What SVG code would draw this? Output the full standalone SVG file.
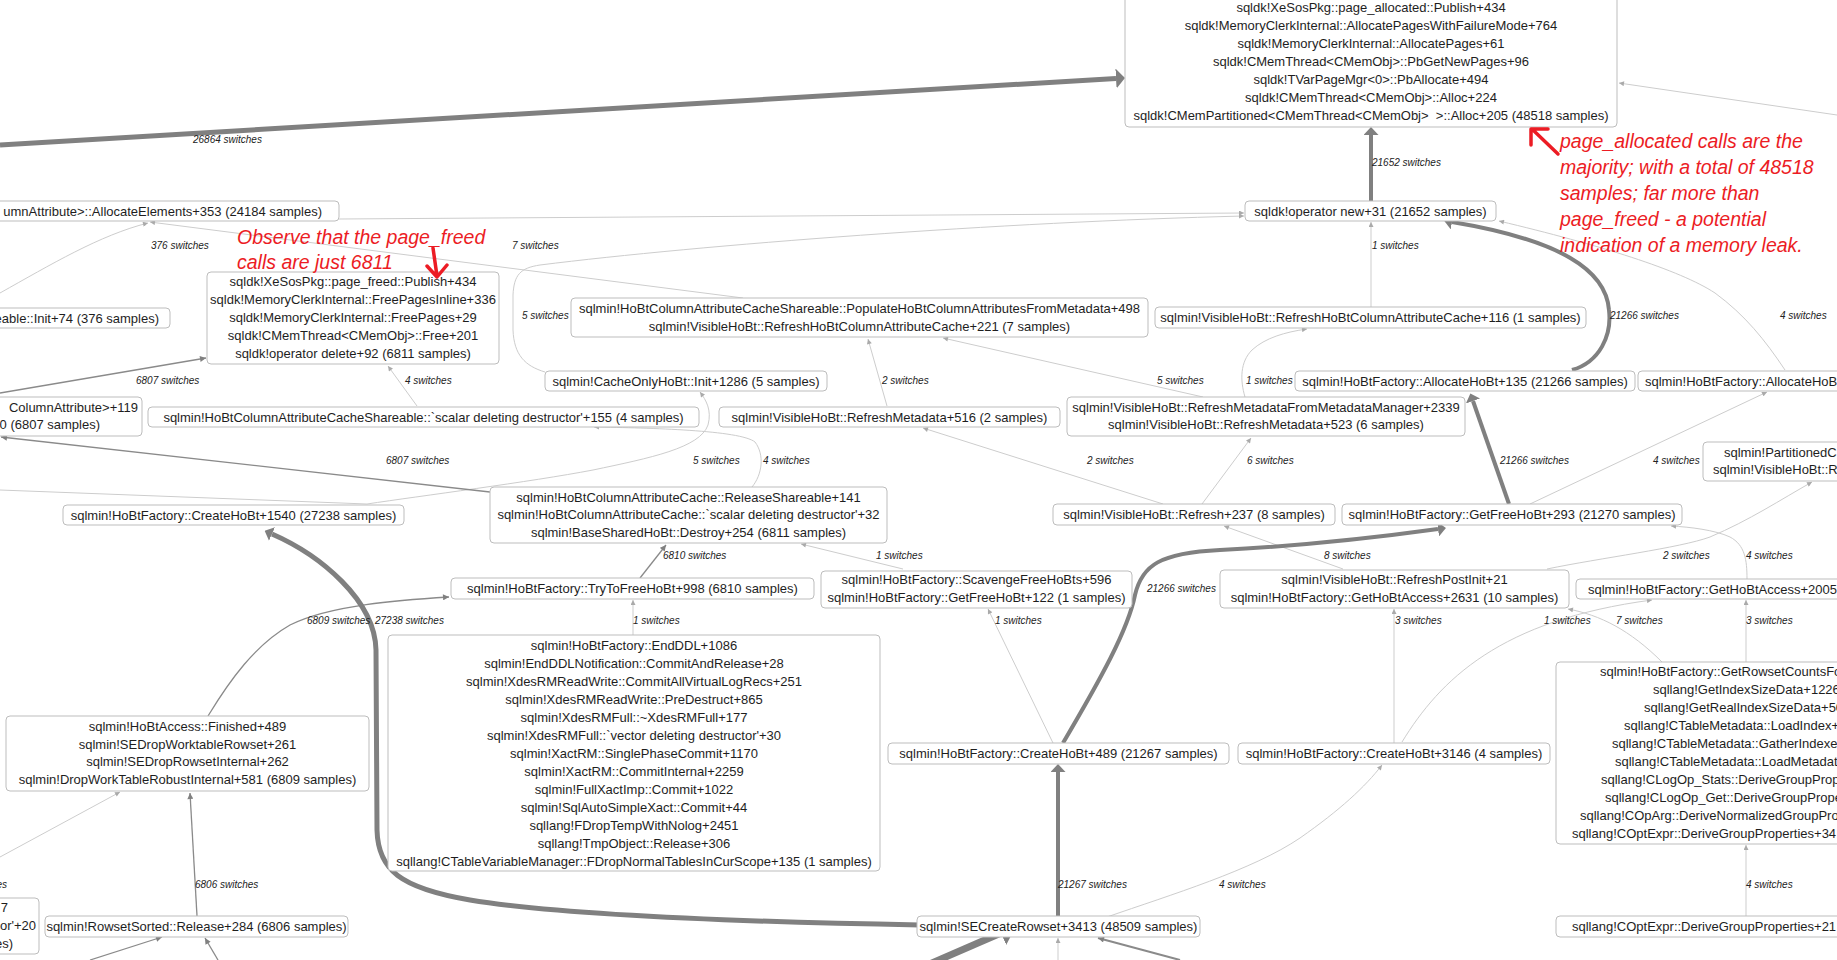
<svg xmlns="http://www.w3.org/2000/svg" width="1837" height="960" viewBox="0 0 1837 960">
<style>
.n rect{fill:#fff;stroke:#bdbdbd;stroke-width:1}
.n text{font-family:"Liberation Sans",Arial,sans-serif;font-size:13px;fill:#1e1e1e;text-anchor:middle}
.n text.s{text-anchor:start}
.n text.r{text-anchor:end}
.lbl{font-family:"Liberation Sans",Arial,sans-serif;font-size:10px;font-style:italic;fill:#222}
.e{fill:none;stroke:#cdcdcd;stroke-width:1}
.m{stroke:#8a8a8a;stroke-width:1.3}
.t{stroke:#808080}
.note{font-family:"Liberation Sans",Arial,sans-serif;font-size:19.5px;font-style:italic;fill:#ec1c24}
.ra{fill:none;stroke:#ec1c24;stroke-width:3.5;stroke-linecap:round;stroke-linejoin:round}
</style>
<defs>
<marker id="at" viewBox="0 0 10 10" refX="10" refY="5" markerWidth="6" markerHeight="5" markerUnits="userSpaceOnUse" orient="auto"><path d="M0,0L10,5L0,10z" fill="#aaaaaa"/></marker>
<marker id="am" viewBox="0 0 10 10" refX="10" refY="5" markerWidth="7" markerHeight="6" markerUnits="userSpaceOnUse" orient="auto"><path d="M0,0L10,5L0,10z" fill="#808080"/></marker>
<marker id="h1" viewBox="0 0 10 10" refX="0" refY="5" markerWidth="9" markerHeight="20" markerUnits="userSpaceOnUse" orient="auto" preserveAspectRatio="none"><path d="M0,0L10,5L0,10z" fill="#808080"/></marker>
<marker id="h2" viewBox="0 0 10 10" refX="0" refY="5" markerWidth="8" markerHeight="15" markerUnits="userSpaceOnUse" orient="auto" preserveAspectRatio="none"><path d="M0,0L10,5L0,10z" fill="#808080"/></marker>
<marker id="h3" viewBox="0 0 10 10" refX="0" refY="5" markerWidth="16" markerHeight="26" markerUnits="userSpaceOnUse" orient="auto" preserveAspectRatio="none"><path d="M0,0L10,5L0,10z" fill="#808080"/></marker>
</defs>

<g id="connectors">
<path class="e" marker-end="url(#at)" d="M1837,115 L1619,83"/>
<path class="e" marker-end="url(#at)" d="M1785,370 C1765,340 1745,315 1715,293 C1680,270 1600,245 1499,221"/>
<path class="e" marker-end="url(#at)" d="M0,293 C50,265 100,235 148,223"/>
<path class="e" marker-end="url(#at)" d="M743,298 L150,222"/>
<path class="e" marker-end="url(#at)" d="M339,219 L1244,213"/>
<path class="e" marker-end="url(#at)" d="M545,372 C525,366 514,355 513,330 L513,295 C514,275 520,268 540,265 C700,245 1000,222 1244,216"/>
<path class="e" marker-end="url(#at)" d="M1371,307 L1371,222"/>
<path class="e" marker-end="url(#at)" d="M417,406 L388,366"/>
<path class="e" marker-end="url(#at)" d="M887,406 L868,339"/>
<path class="e" marker-end="url(#at)" d="M752,487 C762,475 765,455 755,442 C740,430 650,428 594,427"/>
<path class="e" marker-end="url(#at)" d="M0,490 L367,504 C420,496 530,482 593,470 C650,458 700,448 708,425 C712,410 706,400 700,392"/>
<path class="e" marker-end="url(#at)" d="M1163,504 L923,428"/>
<path class="e" marker-end="url(#at)" d="M1202,504 L1251,438"/>
<path class="e" marker-end="url(#at)" d="M1203,397 L943,338"/>
<path class="e" marker-end="url(#at)" d="M1245,397 C1240,380 1240,362 1252,350 C1265,338 1285,332 1307,329"/>
<path class="e" marker-end="url(#at)" d="M903,569 L801,544"/>
<path class="e" marker-end="url(#at)" d="M1053,743 L988,609"/>
<path class="e" marker-end="url(#at)" d="M1343,569 L1224,526"/>
<path class="e" marker-end="url(#at)" d="M1530,504 L1767,392"/>
<path class="e" marker-end="url(#at)" d="M1547,569 C1600,558 1680,548 1710,537 C1750,520 1780,500 1812,482"/>
<path class="e" marker-end="url(#at)" d="M1747,579 C1747,560 1745,545 1730,537 C1715,530 1690,527 1671,526"/>
<path class="e" marker-end="url(#at)" d="M633,635 L633,600"/>
<path class="e" marker-end="url(#at)" d="M1394,743 L1394,609"/>
<path class="e" marker-end="url(#at)" d="M1402,742 C1440,680 1500,620 1652,600"/>
<path class="e" marker-end="url(#at)" d="M1662,662 C1630,630 1600,615 1568,609"/>
<path class="e" marker-end="url(#at)" d="M1746,662 L1746,600"/>
<path class="e" marker-end="url(#at)" d="M1746,916 L1746,845"/>
<path class="e" marker-end="url(#at)" d="M1107,917 C1170,895 1253,870 1300,838 C1340,810 1365,787 1382,765"/>
<path class="e" marker-end="url(#at)" d="M0,857 L120,792"/>
<path class="e" marker-end="url(#at)" d="M1058,960 L1058,938"/>

<path class="e m" marker-end="url(#am)" d="M0,393 L206,358"/>
<path class="e m" marker-end="url(#am)" d="M490,492 L1,437"/>
<path class="e m" marker-end="url(#am)" d="M640,578 L666,545"/>
<path class="e m" marker-end="url(#am)" d="M197,916 L190,793"/>
<path class="e m" marker-end="url(#am)" d="M208,716 C230,680 255,645 290,625 C330,605 400,600 449,597"/>
<path class="e m" marker-end="url(#am)" d="M90,960 L162,937"/>
<path class="e m" marker-end="url(#am)" d="M218,960 L205,938"/>
<path class="e m" marker-end="url(#am)" style="stroke-width:2" d="M1180,960 L1098,938"/>

<path class="e t" style="stroke-width:5" marker-end="url(#h1)" d="M0,145 L1116,78.5"/>
<path class="e t" style="stroke-width:4" marker-end="url(#h2)" d="M1371,201 L1371,135"/>
<path class="e t" style="stroke-width:4" marker-end="url(#h2)" d="M1572,370 C1600,362 1612,335 1609,310 C1606,270 1560,240 1452,222"/>
<path class="e t" style="stroke-width:4" marker-end="url(#h2)" d="M1509,504 L1473,401"/>
<path class="e t" style="stroke-width:4" marker-end="url(#h2)" d="M1063,743 C1100,680 1128,630 1135,595 C1142,565 1160,553 1220,550 C1300,546 1380,537 1438,529"/>
<path class="e t" style="stroke-width:4" marker-end="url(#h2)" d="M1058,917 L1058,772"/>
<path class="e t" style="stroke-width:5" marker-end="url(#h2)" d="M920,925 C750,922 560,915 470,900 C400,888 378,870 377,830 L376,650 C375,600 320,555 272,534"/>
<path class="e t" style="stroke-width:7" marker-end="url(#h3)" d="M925,966 L1001,933"/>

<text class="lbl" x="193" y="143">26864 switches</text>
<text class="lbl" x="151" y="249">376 switches</text>
<text class="lbl" x="512" y="249">7 switches</text>
<text class="lbl" x="1372" y="166">21652 switches</text>
<text class="lbl" x="1372" y="249">1 switches</text>
<text class="lbl" x="1610" y="319">21266 switches</text>
<text class="lbl" x="1780" y="319">4 switches</text>
<text class="lbl" x="522" y="319">5 switches</text>
<text class="lbl" x="136" y="384">6807 switches</text>
<text class="lbl" x="405" y="384">4 switches</text>
<text class="lbl" x="882" y="384">2 switches</text>
<text class="lbl" x="1157" y="384">5 switches</text>
<text class="lbl" x="1246" y="384">1 switches</text>
<text class="lbl" x="386" y="464">6807 switches</text>
<text class="lbl" x="693" y="464">5 switches</text>
<text class="lbl" x="763" y="464">4 switches</text>
<text class="lbl" x="1087" y="464">2 switches</text>
<text class="lbl" x="1247" y="464">6 switches</text>
<text class="lbl" x="1500" y="464">21266 switches</text>
<text class="lbl" x="1653" y="464">4 switches</text>
<text class="lbl" x="663" y="559">6810 switches</text>
<text class="lbl" x="876" y="559">1 switches</text>
<text class="lbl" x="1324" y="559">8 switches</text>
<text class="lbl" x="1663" y="559">2 switches</text>
<text class="lbl" x="1746" y="559">4 switches</text>
<text class="lbl" x="1147" y="592">21266 switches</text>
<text class="lbl" x="307" y="624">6809 switches</text>
<text class="lbl" x="375" y="624">27238 switches</text>
<text class="lbl" x="633" y="624">1 switches</text>
<text class="lbl" x="995" y="624">1 switches</text>
<text class="lbl" x="1395" y="624">3 switches</text>
<text class="lbl" x="1544" y="624">1 switches</text>
<text class="lbl" x="1616" y="624">7 switches</text>
<text class="lbl" x="1746" y="624">3 switches</text>
<text class="lbl" x="7" y="888" text-anchor="end">es</text>
<text class="lbl" x="195" y="888">6806 switches</text>
<text class="lbl" x="1058" y="888">21267 switches</text>
<text class="lbl" x="1219" y="888">4 switches</text>
<text class="lbl" x="1746" y="888">4 switches</text>
</g>

<g id="node-page-allocated" class="n">
<rect x="1125" y="-4" width="492" height="131" rx="4"/>
<text x="1371" y="12">sqldk!XeSosPkg::page_allocated::Publish+434</text>
<text x="1371" y="30">sqldk!MemoryClerkInternal::AllocatePagesWithFailureMode+764</text>
<text x="1371" y="48">sqldk!MemoryClerkInternal::AllocatePages+61</text>
<text x="1371" y="66">sqldk!CMemThread&lt;CMemObj&gt;::PbGetNewPages+96</text>
<text x="1371" y="84">sqldk!TVarPageMgr&lt;0&gt;::PbAllocate+494</text>
<text x="1371" y="102">sqldk!CMemThread&lt;CMemObj&gt;::Alloc+224</text>
<text x="1371" y="120">sqldk!CMemPartitioned&lt;CMemThread&lt;CMemObj&gt;&#160; &gt;::Alloc+205 (48518 samples)</text>
</g>
<g id="node-allocate-elements" class="n">
<rect x="-10" y="201" width="349" height="20" rx="4"/>
<text class="r" x="322" y="215.5">umnAttribute&gt;::AllocateElements+353 (24184 samples)</text>
</g>
<g id="node-operator-new" class="n">
<rect x="1245" y="201" width="251" height="20" rx="4"/>
<text x="1370.5" y="215.5">sqldk!operator new+31 (21652 samples)</text>
</g>
<g id="node-page-freed" class="n">
<rect x="207" y="272" width="292" height="92" rx="4"/>
<text x="353" y="286">sqldk!XeSosPkg::page_freed::Publish+434</text>
<text x="353" y="304">sqldk!MemoryClerkInternal::FreePagesInline+336</text>
<text x="353" y="322">sqldk!MemoryClerkInternal::FreePages+29</text>
<text x="353" y="340">sqldk!CMemThread&lt;CMemObj&gt;::Free+201</text>
<text x="353" y="358">sqldk!operator delete+92 (6811 samples)</text>
</g>
<g id="node-init74" class="n">
<rect x="-10" y="308" width="180" height="20" rx="4"/>
<text class="r" x="159" y="322.5">eable::Init+74 (376 samples)</text>
</g>
<g id="node-populate" class="n">
<rect x="571" y="298" width="577" height="39" rx="4"/>
<text x="859.5" y="312.5">sqlmin!HoBtColumnAttributeCacheShareable::PopulateHoBtColumnAttributesFromMetadata+498</text>
<text x="859.5" y="331">sqlmin!VisibleHoBt::RefreshHoBtColumnAttributeCache+221 (7 samples)</text>
</g>
<g id="node-refresh-colattr116" class="n">
<rect x="1155" y="307" width="431" height="21" rx="4"/>
<text x="1370.5" y="321.5">sqlmin!VisibleHoBt::RefreshHoBtColumnAttributeCache+116 (1 samples)</text>
</g>
<g id="node-cacheonly" class="n">
<rect x="545" y="371" width="282" height="20" rx="4"/>
<text x="686" y="385.5">sqlmin!CacheOnlyHoBt::Init+1286 (5 samples)</text>
</g>
<g id="node-allochobt135" class="n">
<rect x="1295" y="371" width="340" height="20" rx="4"/>
<text x="1465" y="385.5">sqlmin!HoBtFactory::AllocateHoBt+135 (21266 samples)</text>
</g>
<g id="node-allochobt2" class="n">
<rect x="1638" y="371" width="230" height="20" rx="4"/>
<text class="s" x="1645" y="385.5">sqlmin!HoBtFactory::AllocateHoBt</text>
</g>
<g id="node-colattr119" class="n">
<rect x="-10" y="397" width="152" height="39" rx="4"/>
<text class="r" x="138" y="411.5">ColumnAttribute&gt;+119</text>
<text class="r" x="100" y="428.5">40 (6807 samples)</text>
</g>
<g id="node-scalar155" class="n">
<rect x="148" y="407" width="551" height="20" rx="4"/>
<text x="423.5" y="421.5">sqlmin!HoBtColumnAttributeCacheShareable::`scalar deleting destructor'+155 (4 samples)</text>
</g>
<g id="node-refreshmeta516" class="n">
<rect x="719" y="407" width="341" height="20" rx="4"/>
<text x="889.5" y="421.5">sqlmin!VisibleHoBt::RefreshMetadata+516 (2 samples)</text>
</g>
<g id="node-refresh-from-mgr" class="n">
<rect x="1067" y="397" width="398" height="39" rx="4"/>
<text x="1266" y="411.5">sqlmin!VisibleHoBt::RefreshMetadataFromMetadataManager+2339</text>
<text x="1266" y="428.5">sqlmin!VisibleHoBt::RefreshMetadata+523 (6 samples)</text>
</g>
<g id="node-partitioned" class="n">
<rect x="1703" y="442" width="150" height="39" rx="4"/>
<text class="s" x="1724" y="456.5">sqlmin!PartitionedC</text>
<text class="s" x="1713" y="473.5">sqlmin!VisibleHoBt::R</text>
</g>
<g id="node-releaseshareable" class="n">
<rect x="490" y="487" width="397" height="56" rx="4"/>
<text x="688.5" y="501.5">sqlmin!HoBtColumnAttributeCache::ReleaseShareable+141</text>
<text x="688.5" y="519">sqlmin!HoBtColumnAttributeCache::`scalar deleting destructor'+32</text>
<text x="688.5" y="537">sqlmin!BaseSharedHoBt::Destroy+254 (6811 samples)</text>
</g>
<g id="node-createhobt1540" class="n">
<rect x="63" y="505" width="341" height="20" rx="4"/>
<text x="233.5" y="519.5">sqlmin!HoBtFactory::CreateHoBt+1540 (27238 samples)</text>
</g>
<g id="node-refresh237" class="n">
<rect x="1053" y="504" width="282" height="21" rx="4"/>
<text x="1194" y="518.5">sqlmin!VisibleHoBt::Refresh+237 (8 samples)</text>
</g>
<g id="node-getfreehobt293" class="n">
<rect x="1342" y="504" width="340" height="21" rx="4"/>
<text x="1512" y="518.5">sqlmin!HoBtFactory::GetFreeHoBt+293 (21270 samples)</text>
</g>
<g id="node-scavenge" class="n">
<rect x="821" y="571" width="311" height="37" rx="4"/>
<text x="976.5" y="584">sqlmin!HoBtFactory::ScavengeFreeHoBts+596</text>
<text x="976.5" y="602">sqlmin!HoBtFactory::GetFreeHoBt+122 (1 samples)</text>
</g>
<g id="node-trytofree" class="n">
<rect x="451" y="578" width="363" height="21" rx="4"/>
<text x="632.5" y="593">sqlmin!HoBtFactory::TryToFreeHoBt+998 (6810 samples)</text>
</g>
<g id="node-refreshpostinit" class="n">
<rect x="1220" y="570" width="349" height="38" rx="4"/>
<text x="1394.5" y="584">sqlmin!VisibleHoBt::RefreshPostInit+21</text>
<text x="1394.5" y="602">sqlmin!HoBtFactory::GetHoBtAccess+2631 (10 samples)</text>
</g>
<g id="node-gethobtaccess2005" class="n">
<rect x="1576" y="579" width="300" height="20" rx="4"/>
<text class="s" x="1588" y="593.5">sqlmin!HoBtFactory::GetHoBtAccess+2005</text>
</g>
<g id="node-enddll" class="n">
<rect x="388" y="635" width="492" height="236" rx="4"/>
<text x="634" y="649.5">sqlmin!HoBtFactory::EndDDL+1086</text>
<text x="634" y="667.5">sqlmin!EndDDLNotification::CommitAndRelease+28</text>
<text x="634" y="685.5">sqlmin!XdesRMReadWrite::CommitAllVirtualLogRecs+251</text>
<text x="634" y="703.5">sqlmin!XdesRMReadWrite::PreDestruct+865</text>
<text x="634" y="721.5">sqlmin!XdesRMFull::~XdesRMFull+177</text>
<text x="634" y="739.5">sqlmin!XdesRMFull::`vector deleting destructor'+30</text>
<text x="634" y="757.5">sqlmin!XactRM::SinglePhaseCommit+1170</text>
<text x="634" y="775.5">sqlmin!XactRM::CommitInternal+2259</text>
<text x="634" y="793.5">sqlmin!FullXactImp::Commit+1022</text>
<text x="634" y="811.5">sqlmin!SqlAutoSimpleXact::Commit+44</text>
<text x="634" y="829.5">sqllang!FDropTempWithNolog+2451</text>
<text x="634" y="847.5">sqllang!TmpObject::Release+306</text>
<text x="634" y="865.5">sqllang!CTableVariableManager::FDropNormalTablesInCurScope+135 (1 samples)</text>
</g>
<g id="node-getrowsetcounts" class="n">
<rect x="1556" y="662" width="320" height="182" rx="4"/>
<text class="s" x="1600" y="676">sqlmin!HoBtFactory::GetRowsetCountsFo</text>
<text class="s" x="1653" y="694">sqllang!GetIndexSizeData+1226</text>
<text class="s" x="1644" y="712">sqllang!GetRealIndexSizeData+50</text>
<text class="s" x="1624" y="730">sqllang!CTableMetadata::LoadIndex+</text>
<text class="s" x="1612" y="748">sqllang!CTableMetadata::GatherIndexe</text>
<text class="s" x="1615" y="766">sqllang!CTableMetadata::LoadMetadat</text>
<text class="s" x="1601" y="784">sqllang!CLogOp_Stats::DeriveGroupProp</text>
<text class="s" x="1605" y="802">sqllang!CLogOp_Get::DeriveGroupPrope</text>
<text class="s" x="1580" y="820">sqllang!COpArg::DeriveNormalizedGroupPro</text>
<text class="s" x="1572" y="838">sqllang!COptExpr::DeriveGroupProperties+34</text>
</g>
<g id="node-finished" class="n">
<rect x="6" y="716" width="363" height="75" rx="4"/>
<text x="187.5" y="730.5">sqlmin!HoBtAccess::Finished+489</text>
<text x="187.5" y="748.5">sqlmin!SEDropWorktableRowset+261</text>
<text x="187.5" y="766">sqlmin!SEDropRowsetInternal+262</text>
<text x="187.5" y="784">sqlmin!DropWorkTableRobustInternal+581 (6809 samples)</text>
</g>
<g id="node-createhobt489" class="n">
<rect x="888" y="743" width="341" height="21" rx="4"/>
<text x="1058.5" y="757.5">sqlmin!HoBtFactory::CreateHoBt+489 (21267 samples)</text>
</g>
<g id="node-createhobt3146" class="n">
<rect x="1238" y="743" width="312" height="21" rx="4"/>
<text x="1394" y="757.5">sqlmin!HoBtFactory::CreateHoBt+3146 (4 samples)</text>
</g>
<g id="node-bottomleft" class="n">
<rect x="-10" y="898" width="49" height="56" rx="4"/>
<text class="r" x="8" y="911.5">7</text>
<text class="r" x="36" y="929.5">or'+20</text>
<text class="r" x="13" y="947.5">es)</text>
</g>
<g id="node-rowsetsorted" class="n">
<rect x="45" y="916" width="303" height="21" rx="4"/>
<text x="196.5" y="930.5">sqlmin!RowsetSorted::Release+284 (6806 samples)</text>
</g>
<g id="node-secreaterowset" class="n">
<rect x="917" y="916" width="283" height="21" rx="4"/>
<text x="1058.5" y="930.5">sqlmin!SECreateRowset+3413 (48509 samples)</text>
</g>
<g id="node-coptexpr21" class="n">
<rect x="1556" y="916" width="320" height="21" rx="4"/>
<text class="s" x="1572" y="930.5">sqllang!COptExpr::DeriveGroupProperties+21</text>
</g>

<g id="annotations">
<text class="note" x="237" y="244">Observe that the page_freed</text>
<text class="note" x="237" y="269">calls are just 6811</text>
<path class="ra" d="M433,248 L437,276 M427,266 L437,277 L447,265"/>
<text class="note" x="1560" y="148">page_allocated calls are the</text>
<text class="note" x="1560" y="174">majority; with a total of 48518</text>
<text class="note" x="1560" y="200">samples; far more than</text>
<text class="note" x="1560" y="226">page_freed - a potential</text>
<text class="note" x="1560" y="252">indication of a memory leak.</text>
<path class="ra" d="M1558,154 L1533,130 M1531,145 L1531,129 L1548,129"/>
</g>
</svg>
